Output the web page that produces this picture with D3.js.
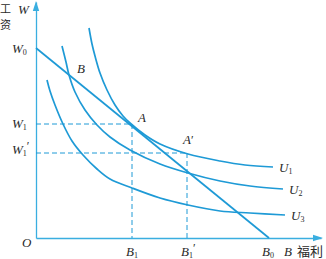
<!DOCTYPE html>
<html><head><meta charset="utf-8">
<script src="https://cdn.jsdelivr.net/npm/d3@7"></script>
<style>
html,body{margin:0;padding:0;background:#fff;}
svg{display:block;}
</style></head>
<body>
<svg id="c" width="326" height="259"></svg>
<script>
// Indifference curves (benefit B, wage W)
const U1 = [[53,210],[56,194],[59,182],[64,165],[71,148],[79,133],[87,122],[94,115],[109,103],[124,94],[152,84],[184,77],[209,73],[237,71]];
const U2 = [[26,192],[30,176],[33,163],[39,146],[49,128],[61,113],[74,101],[94,88],[124,74],[152,65],[184,57],[214,52],[247,49]];
const U3 = [[11,158],[14,147],[19,133],[27,114],[36,97],[47,83],[61,69],[74,59],[96,50],[124,40],[152,33],[184,27],[214,25],[249,23]];
const budget = [[0,190],[233,0]];
const curveNames = ["U1","U2","U3"];
const W0 = 190, W1 = 114, W1p = 85;
const B1 = 96, B1p = 151, B0 = 233;
const pointA = [96,114], pointAp = [151,85], pointB = [33,163];

const svg = d3.select("#c");
const x = d3.scaleLinear().domain([0,285]).range([36,321]);
const y = d3.scaleLinear().domain([0,236]).range([238,2]);

const blue = "#1e9ad6", axisBlue = "#3aaee0", txt = "#2a2a2a";
const serif = "'Liberation Serif','Times New Roman',serif";
const cjk = "'Noto Sans CJK SC',sans-serif";

// axes (no ticks)
const xa = svg.append("g").attr("transform",`translate(0,${y(0)})`)
  .call(d3.axisBottom(x).tickValues([]).tickSizeOuter(0));
const ya = svg.append("g").attr("transform",`translate(${x(0)},0)`)
  .call(d3.axisLeft(y).tickValues([]).tickSizeOuter(0));
[xa,ya].forEach(g=>g.select(".domain").attr("stroke",axisBlue).attr("stroke-width",1.3));
// arrowheads
svg.append("path").attr("d",`M${x(0)},${y(236)-1} L${x(0)-3.2},${y(236)+9} L${x(0)+3.2},${y(236)+9}Z`).attr("fill",axisBlue);
svg.append("path").attr("d",`M${x(285)+2},${y(0)} L${x(285)-8},${y(0)-3.2} L${x(285)-8},${y(0)+3.2}Z`).attr("fill",axisBlue);

// dashed guides
const dash = (pts)=>svg.append("path").attr("d",d3.line().x(d=>x(d[0])).y(d=>y(d[1]))(pts))
  .attr("fill","none").attr("stroke",blue).attr("stroke-width",1).attr("stroke-dasharray","5,3");
dash([[0,W1],[B1,W1]]); dash([[B1,W1],[B1,0]]);
dash([[0,W1p],[B1p,W1p]]); dash([[B1p,W1p],[B1p,0]]);

// budget line
svg.append("path").attr("d",d3.line().x(d=>x(d[0])).y(d=>y(d[1]))(budget))
  .attr("fill","none").attr("stroke",blue).attr("stroke-width",1.7);

// curves
const line = d3.line().x(d=>x(d[0])).y(d=>y(d[1])).curve(d3.curveCatmullRom.alpha(0.5));
[U1,U2,U3].forEach(c=>svg.append("path").attr("d",line(c)).attr("fill","none")
  .attr("stroke",blue).attr("stroke-width",1.7));

// label helper: main italic letter + upright subscript + optional prime
function label(px,py,main,sub,prime,anchor){
  const t = svg.append("text").attr("x",px).attr("y",py).attr("font-family",serif)
    .attr("font-size",13).attr("fill",txt).attr("text-anchor",anchor||"start");
  t.append("tspan").attr("font-style","italic").text(main);
  if(sub){ t.append("tspan").attr("font-size",8).attr("dy",2).text(sub); }
  if(prime){ t.append("tspan").attr("font-size",12).attr("dy",sub?-6:0).text("′"); }
  return t;
}
// y-axis labels
label(12,y(W0)+5,"W","0");
label(12,y(W1)+4,"W","1");
label(12,y(W1p)+1,"W","1",true);
// x-axis labels
label(x(B1)-6,256,"B","1");
label(x(B1p)-6,256,"B","1",true);
label(x(B0)-7,256,"B","0");
label(x(248),256,"B");
svg.append("text").attr("x",x(261)).attr("y",256).attr("font-family",cjk).attr("font-size",13).attr("fill",txt).text("福利");
// origin
label(22,247,"O");
// axis title
label(18,14,"W");
svg.append("text").attr("x",0).attr("y",13).attr("font-family",cjk).attr("font-size",11).attr("fill",txt).text("工");
svg.append("text").attr("x",0).attr("y",29).attr("font-family",cjk).attr("font-size",11).attr("fill",txt).text("资");
// points
label(x(pointA[0])+6,y(pointA[1])-2,"A");
label(x(pointAp[0])-4,y(pointAp[1])-9,"A",null,true);
label(x(pointB[0])+8,y(pointB[1])-2,"B");
// curve labels
const ends = [U1,U2,U3];
curveNames.forEach((n,i)=>{
  const e = ends[i][ends[i].length-1];
  label(x(e[0])+6,y(e[1])+5,"U",n.slice(1));
});
</script>
</body></html>
